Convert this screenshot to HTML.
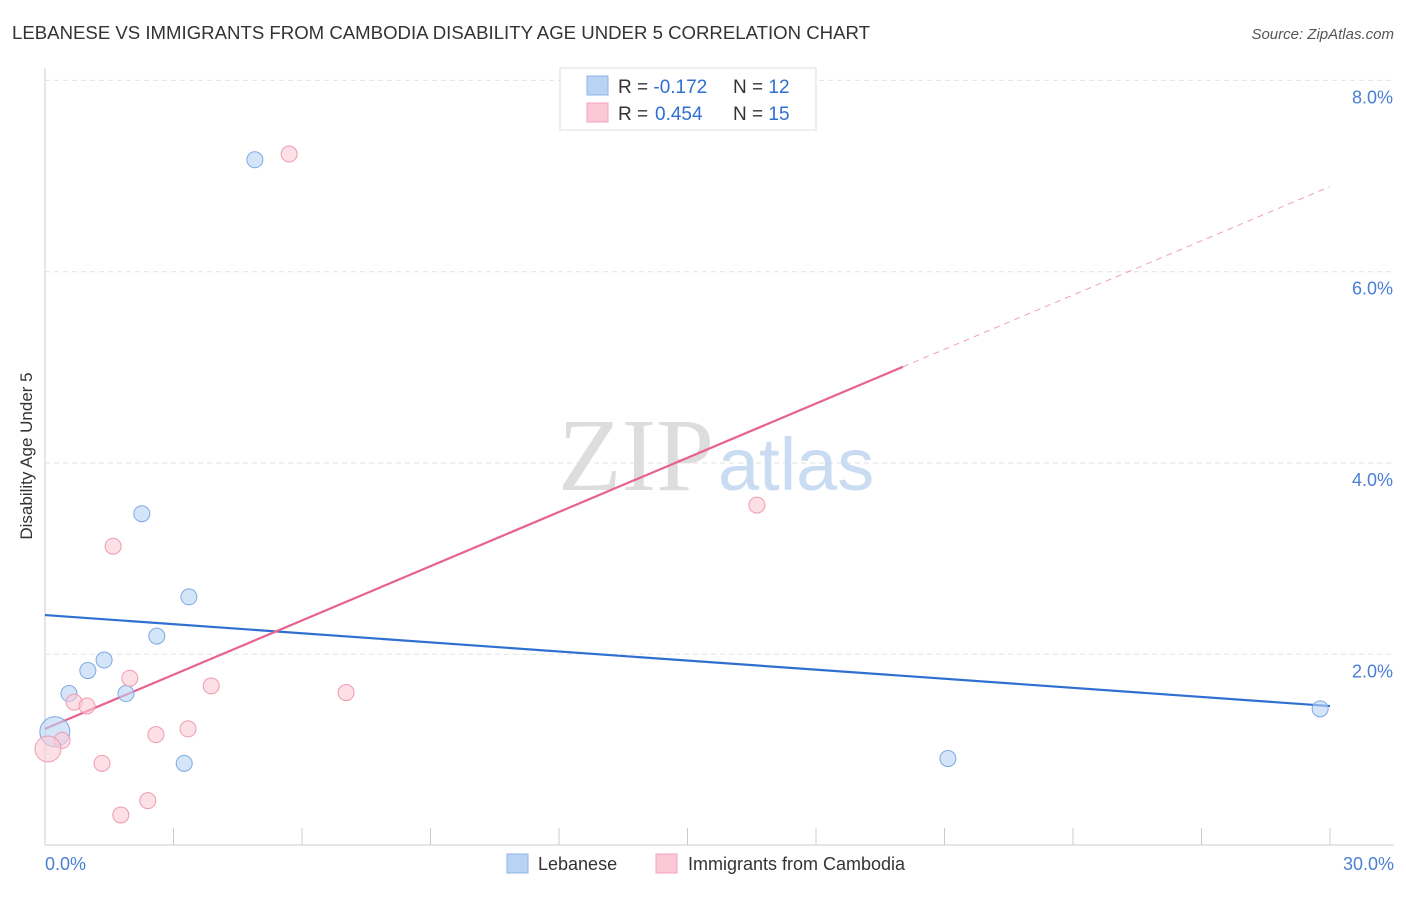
<!DOCTYPE html>
<html><head><meta charset="utf-8"><style>
body{margin:0;background:#fff;font-family:"Liberation Sans",sans-serif;}
</style></head><body>
<svg width="1406" height="892" xmlns="http://www.w3.org/2000/svg">
<text x="12" y="39" font-size="18" fill="#333" textLength="858" lengthAdjust="spacingAndGlyphs">LEBANESE VS IMMIGRANTS FROM CAMBODIA DISABILITY AGE UNDER 5 CORRELATION CHART</text>
<text x="1394" y="39" font-size="15" fill="#555" font-style="italic" text-anchor="end">Source: ZipAtlas.com</text>
<g id="grid"></g>
<text x="714" y="490" font-size="104" fill="#ddd" text-anchor="end" font-family="Liberation Serif">ZIP</text>
<text x="718" y="490" font-size="74" fill="#c9dcf2">atlas</text>
<line x1="45" y1="68" x2="45" y2="845" stroke="#ccc"/>
<line x1="45" y1="845" x2="1394" y2="845" stroke="#ccc"/>
<g id="lines"></g><g id="pts"></g>
<text x="32" y="456" font-size="17" fill="#333" text-anchor="middle" transform="rotate(-90 32 456)">Disability Age Under 5</text>
<text x="45" y="870" font-size="18" fill="#4a7fd4">0.0%</text>
<text x="1394" y="870" font-size="18" fill="#4a7fd4" text-anchor="end">30.0%</text>
<g>
<rect x="560" y="68" width="256" height="62" fill="#fff" stroke="#ddd"/>
<rect x="587" y="76" width="21" height="19" fill="#b9d3f5" stroke="#8db4e8"/>
<rect x="587" y="103" width="21" height="19" fill="#fbc9d6" stroke="#f3a3b9"/>
<text x="618" y="93" font-size="19" fill="#333">R = <tspan fill="#2f6fd1">-0.172</tspan><tspan x="733">N = </tspan><tspan fill="#2f6fd1">12</tspan></text>
<text x="618" y="120" font-size="19" fill="#333">R = <tspan fill="#2f6fd1" x="655">0.454</tspan><tspan x="733">N = </tspan><tspan fill="#2f6fd1">15</tspan></text>
</g>
<g>
<rect x="507" y="854" width="21" height="19" fill="#b9d3f5" stroke="#8db4e8"/>
<text x="538" y="870" font-size="18" fill="#333">Lebanese</text>
<rect x="656" y="854" width="21" height="19" fill="#fbc9d6" stroke="#f3a3b9"/>
<text x="688" y="870" font-size="18" fill="#333">Immigrants from Cambodia</text>
</g>
</svg>
<script>
const yTicks=[2,4,6,8];
const xTicks=[3,6,9,12,15,18,21,24,27,30];
const lebX=[4.90,2.26,3.36,2.61,1.38,1.00,0.56,1.89,0.23,3.25,21.08,29.77];
const lebY=[7.17,3.47,2.60,2.19,1.94,1.83,1.59,1.59,1.19,0.86,0.91,1.43];
const lebR=[8,8,8,8,8,8,8,8,15,8,8,8];
const camX=[5.70,1.59,16.62,1.98,3.88,7.03,0.68,0.98,3.34,2.59,0.40,0.07,1.33,2.40,1.77];
const camY=[7.23,3.13,3.56,1.75,1.67,1.60,1.50,1.46,1.22,1.16,1.10,1.01,0.86,0.47,0.32];
const camR=[8,8,8,8,8,8,8,8,8,8,8,13,8,8,8];
const lebLine=[2.41,-0.0317];
const camLine=[1.22,0.189];
const camSolidEnd=20.03;
const X=v=>45+v*1285/30, Y=v=>845.6-v*95.65;
const NS='http://www.w3.org/2000/svg';
function mk(t,a,p){const e=document.createElementNS(NS,t);for(const k in a)e.setAttribute(k,a[k]);document.getElementById(p).appendChild(e);return e;}
yTicks.forEach(t=>{
 const l=mk('line',{x1:45,x2:1394,y1:Y(t),y2:Y(t),stroke:'#e2e2e2','stroke-dasharray':'5,4'},'grid');
 
 
 const tx=mk('text',{x:1393,y:Y(t)+23,'font-size':18,fill:'#4a7fd4','text-anchor':'end'},'grid');
 tx.textContent=t.toFixed(1)+'%';
 
 
});
xTicks.forEach(t=>{
 const l=mk('line',{x1:X(t),x2:X(t),y1:828,y2:845,stroke:'#ccc'},'grid');
 
 
});
function pts(xs,ys,rs,fill,stroke,name){xs.forEach((x,i)=>{
 const c=mk('circle',{cx:X(x),cy:Y(ys[i]),r:rs[i],fill:fill,stroke:stroke,'stroke-width':1,'fill-opacity':0.6},'pts');
 
 
});}
pts(lebX,lebY,lebR,'#b9d3f5','#7fa9e0','lebanese-point');
pts(camX,camY,camR,'#fbc9d6','#ee9ab2','cambodia-point');
let l=mk('line',{x1:X(0),y1:Y(lebLine[0]),x2:X(30),y2:Y(lebLine[0]+lebLine[1]*30),stroke:'#2f6fd1','stroke-width':2.2},'lines');


l=mk('line',{x1:X(0),y1:Y(camLine[0]),x2:X(camSolidEnd),y2:Y(camLine[0]+camLine[1]*camSolidEnd),stroke:'#e8628e','stroke-width':2.2},'lines');


l=mk('line',{x1:X(camSolidEnd),y1:Y(camLine[0]+camLine[1]*camSolidEnd),x2:X(30),y2:Y(camLine[0]+camLine[1]*30),stroke:'#eea0b8','stroke-width':1,'stroke-dasharray':'6,5'},'lines');


</script>
</body></html>
